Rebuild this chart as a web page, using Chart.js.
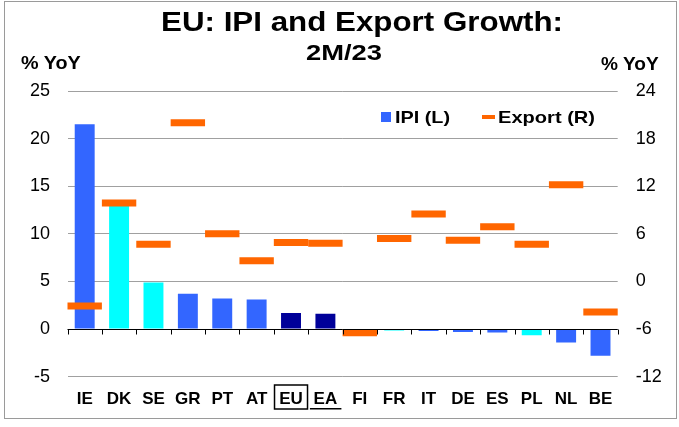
<!DOCTYPE html>
<html>
<head>
<meta charset="utf-8">
<script src="https://cdn.jsdelivr.net/npm/chart.js@4/dist/chart.umd.min.js"></script>
<style>
  html, body { margin:0; padding:0; background:#fff; }
  #wrap { position:relative; width:679px; height:427px; overflow:hidden; font-family:"Liberation Sans", Arial, sans-serif; }
  #frame { position:absolute; left:4px; top:1px; width:671px; height:416px; border:1px solid #9a9a9a; }
  canvas { position:absolute; left:0; top:0; }
  .txt { position:absolute; white-space:nowrap; font-weight:bold; color:#000; transform-origin:0 0; }
  .sw { position:absolute; }
</style>
</head>
<body>
<div id="wrap">
  <div id="frame"></div>
  <canvas id="c" width="679" height="427"></canvas>
  <div class="txt" data-w="402" style="left:161px;top:8.8px;font-size:27px;line-height:27px;">EU: IPI and Export Growth:</div>
  <div class="txt" data-w="76" style="left:306px;top:41.5px;font-size:22px;line-height:22px;">2M/23</div>
  <div class="txt" data-w="60" style="left:21px;top:54.5px;font-size:17.5px;line-height:17.5px;">% YoY</div>
  <div class="txt" data-w="58" style="left:601px;top:56px;font-size:17.5px;line-height:17.5px;">% YoY</div>
  <div class="sw" style="left:381px;top:112px;width:10px;height:10px;background:#3366FF;"></div>
  <div class="txt" data-w="55" style="left:395px;top:108.9px;font-size:17px;line-height:17px;">IPI (L)</div>
  <div class="sw" style="left:482px;top:115px;width:13px;height:4px;background:#FF6600;"></div>
  <div class="txt" data-w="97" style="left:498px;top:108.9px;font-size:17px;line-height:17px;">Export (R)</div>
</div>
<script>
// ---- data ----
const categories   = ['IE','DK','SE','GR','PT','AT','EU','EA','FI','FR','IT','DE','ES','PL','NL','BE'];
const ipiGrowth    = [21.5, 13.0, 4.9, 3.7, 3.2, 3.1, 1.7, 1.6, -0.3, -0.15, -0.2, -0.3, -0.35, -0.65, -1.4, -2.8];
const exportGrowth = [-3.1, 9.9, 4.7, 20.0, 6.0, 2.6, 4.9, 4.8, -6.45, 5.4, 8.5, 5.2, 6.9, 4.7, 12.2, -3.85];
const ipiColors    = ['#3366FF','#00FFFF','#00FFFF','#3366FF','#3366FF','#3366FF','#000099','#000099',
                      '#3366FF','#00FFFF','#3366FF','#3366FF','#3366FF','#00FFFF','#3366FF','#3366FF'];
const leftTicks  = { min:-5,  max:25, step:5 };
const rightTicks = { min:-12, max:24, step:6 };

// stretch HTML texts to the reference widths
const mctx = document.createElement('canvas').getContext('2d');
document.querySelectorAll('.txt').forEach(el => {
  const cs = getComputedStyle(el);
  mctx.font = 'bold ' + cs.fontSize + ' ' + cs.fontFamily;
  const w = mctx.measureText(el.textContent).width;
  const target = parseFloat(el.dataset.w);
  el.style.transform = 'scaleX(' + (target / w) + ')';
});

const FONT = '"Liberation Sans", Arial, sans-serif';

const axisDecor = {
  id: 'axisDecor',
  afterDatasetsDraw(chart) {
    const { ctx, scales: { x, y } } = chart;
    const y0 = Math.round(y.getPixelForValue(0)) + 0.5;
    const n = categories.length;
    const cw = (x.right - x.left) / n;
    ctx.save();
    ctx.strokeStyle = '#000';
    ctx.lineWidth = 1;
    ctx.beginPath();
    ctx.moveTo(x.left, y0); ctx.lineTo(x.right, y0);
    for (let i = 0; i <= n; i++) {
      const px = Math.round(x.left + i * cw) + 0.5;
      ctx.moveTo(px, y0); ctx.lineTo(px, y0 + 5);
    }
    ctx.stroke();
    ctx.restore();
  },
  afterDraw(chart) {
    const { ctx, scales: { x } } = chart;
    const eu = x.getPixelForValue(categories.indexOf('EU'));
    const ea = x.getPixelForValue(categories.indexOf('EA'));
    ctx.save();
    ctx.strokeStyle = '#000';
    ctx.lineWidth = 1.5;
    ctx.strokeRect(eu - 16.5, 385, 33, 24);
    ctx.beginPath();
    ctx.moveTo(ea - 15.5, 408.7); ctx.lineTo(ea + 16, 408.7);
    ctx.stroke();
    ctx.restore();
  }
};

new Chart(document.getElementById('c'), {
  type: 'bar',
  data: {
    labels: categories,
    datasets: [
      {
        type: 'line',
        label: 'Export (R)',
        data: exportGrowth,
        yAxisID: 'y2',
        showLine: false,
        pointStyle: 'line',
        pointRadius: (c) => { const s = c.chart.scales.x; return s ? (s.right - s.left) / categories.length / 2 : 17.2; },
        pointHoverRadius: (c) => { const s = c.chart.scales.x; return s ? (s.right - s.left) / categories.length / 2 : 17.2; },
        pointBorderWidth: 7,
        borderColor: '#FF6600',
        backgroundColor: '#FF6600',
        order: 0
      },
      {
        type: 'bar',
        label: 'IPI (L)',
        data: ipiGrowth,
        yAxisID: 'y',
        backgroundColor: ipiColors,
        barPercentage: 0.58,
        categoryPercentage: 1,
        order: 1
      }
    ]
  },
  options: {
    responsive: false,
    animation: false,
    events: [],
    layout: { padding: { top: 91, left: 0, right: 0, bottom: 0 } },
    plugins: { legend: { display: false }, tooltip: { enabled: false } },
    scales: {
      x: {
        offset: true,
        grid: { display: false, drawTicks: false },
        border: { display: false },
        ticks: { color: '#000', font: { family: FONT, size: 17, weight: 'bold' }, padding: 12.5, maxRotation: 0, autoSkip: false },
        afterFit: (s) => { s.height = 50.3; }
      },
      y: {
        position: 'left',
        min: leftTicks.min, max: leftTicks.max,
        ticks: { stepSize: leftTicks.step, color: '#000', font: { family: FONT, size: 18 }, padding: 17.5 },
        grid: { color: '#a0a0a0', lineWidth: 1, drawTicks: false },
        border: { display: false },
        afterFit: (s) => { s.width = 67.5; }
      },
      y2: {
        position: 'right',
        min: rightTicks.min, max: rightTicks.max,
        ticks: { stepSize: rightTicks.step, color: '#000', font: { family: FONT, size: 18 }, padding: 18 },
        grid: { drawOnChartArea: false, drawTicks: false },
        border: { display: false },
        afterFit: (s) => { s.width = 61.3; }
      }
    }
  },
  plugins: [axisDecor]
});
</script>
</body>
</html>
